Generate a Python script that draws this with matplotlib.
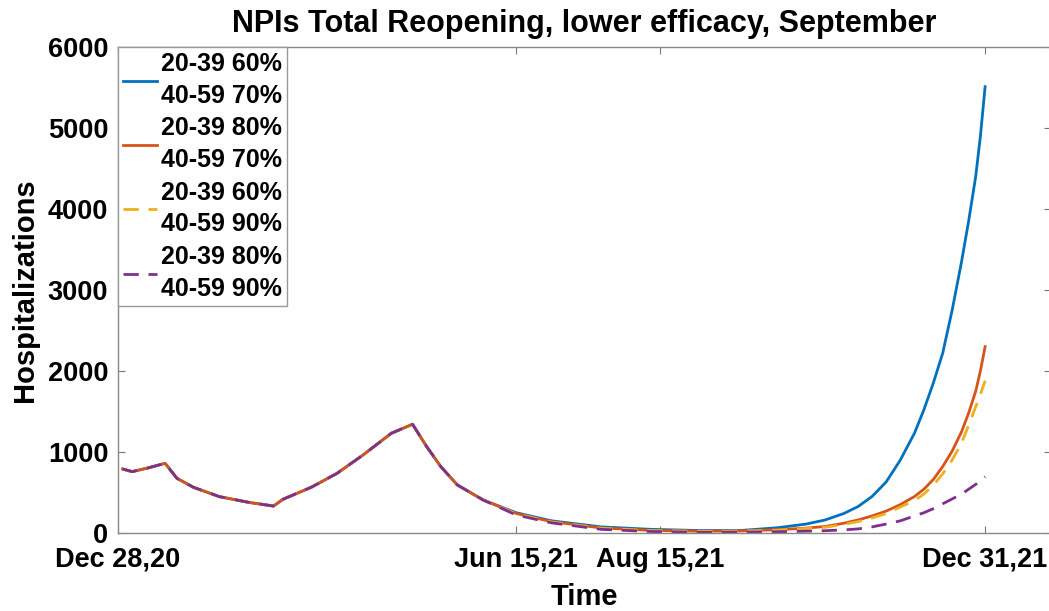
import numpy as np
import matplotlib.pyplot as plt

plt.rcParams['font.family'] = ['Liberation Sans', 'DejaVu Sans']
plt.rcParams['font.weight'] = 'bold'

# days since Dec 28, 2020
days = [2, 6, 13, 20, 25, 32, 43, 56, 66, 70, 82, 93, 104, 116, 125, 131, 137, 144, 155,
        169, 184, 205, 226, 247,
        264, 280, 292, 300, 308, 314, 320, 326, 332, 338, 342, 346, 350, 354, 358, 361, 364, 366, 368]

common = [790, 757, 805, 860, 675, 564, 449, 375, 333, 416, 564, 737, 963, 1231, 1342,
          1066, 819, 593, 407]

blue_tail = [250, 150, 75, 45, 30,
             30, 65, 110, 160, 240, 325, 450, 630, 900, 1231, 1520, 1850, 2220, 2750, 3350,
             3850, 4400, 4900, 5510]
orange_tail = [240, 140, 62, 32, 22,
               25, 40, 60, 80, 120, 160, 210, 270, 350, 450, 540, 660, 820, 1010, 1250,
               1480, 1750, 2000, 2300]
yellow_tail = [235, 135, 58, 30, 20,
               22, 35, 55, 70, 105, 140, 185, 240, 320, 400, 480, 590, 730, 900, 1110,
               1330, 1560, 1710, 1880]
purple_tail = [222, 125, 45, 18, 8,
               10, 15, 22, 28, 38, 50, 75, 110, 150, 210, 250, 300, 360, 420, 480,
               540, 600, 645, 695]

labels = ['20-39 60%\n40-59 70%', '20-39 80%\n40-59 70%',
          '20-39 60%\n40-59 90%', '20-39 80%\n40-59 90%']
colors = ['#0072BD', '#D95319', '#EDB120', '#7E2F8E']
styles = ['-', '-', '--', '--']
series = [common + blue_tail, common + orange_tail, common + yellow_tail, common + purple_tail]

tick_days = [0, 169, 230, 368]
tick_labels = ['Dec 28,20', 'Jun 15,21', 'Aug 15,21', 'Dec 31,21']

fig = plt.figure(figsize=(10.49, 6.11), dpi=100)
ax = fig.add_axes([0.1125, 0.1277, 0.8895, 0.7954])

for vals, c, ls, lab in zip(series, colors, styles, labels):
    if ls == '--':
        ax.plot(days, vals, color=c, lw=2.0, label=lab, dashes=(5.5, 3.5))
    else:
        ax.plot(days, vals, color=c, lw=2.0, label=lab)

ax.set_xlim(0, 396)
ax.set_ylim(0, 6000)
ax.set_xticks(tick_days)
ax.set_xticklabels(tick_labels)
ax.set_yticks(range(0, 6001, 1000))
ax.tick_params(direction='in', top=True, right=True, labelsize=19.5, colors='#777777',
               labelcolor='black', length=5, width=0.8)
ax.tick_params(axis='x', pad=10)
ax.tick_params(axis='y', pad=7)
for s in ax.spines.values():
    s.set_color('#888888')
    s.set_linewidth(1.0)

ax.set_title('NPIs Total Reopening, lower efficacy, September', fontsize=22,
             fontweight='bold', pad=11)
ax.set_xlabel('Time', fontsize=21, fontweight='bold', labelpad=7)
ax.set_ylabel('Hospitalizations', fontsize=21, fontweight='bold', labelpad=6)

leg = ax.legend(loc='upper left', bbox_to_anchor=(0, 1), borderaxespad=0, fontsize=18,
                handlelength=1.35, handletextpad=0.15, labelspacing=0.35, borderpad=0.2,
                fancybox=False, framealpha=1)
for t in leg.get_texts():
    t.set_linespacing(1.4)
leg.get_frame().set_edgecolor('#999999')
leg.get_frame().set_linewidth(1.0)

fig.savefig('out.png', dpi=100)
